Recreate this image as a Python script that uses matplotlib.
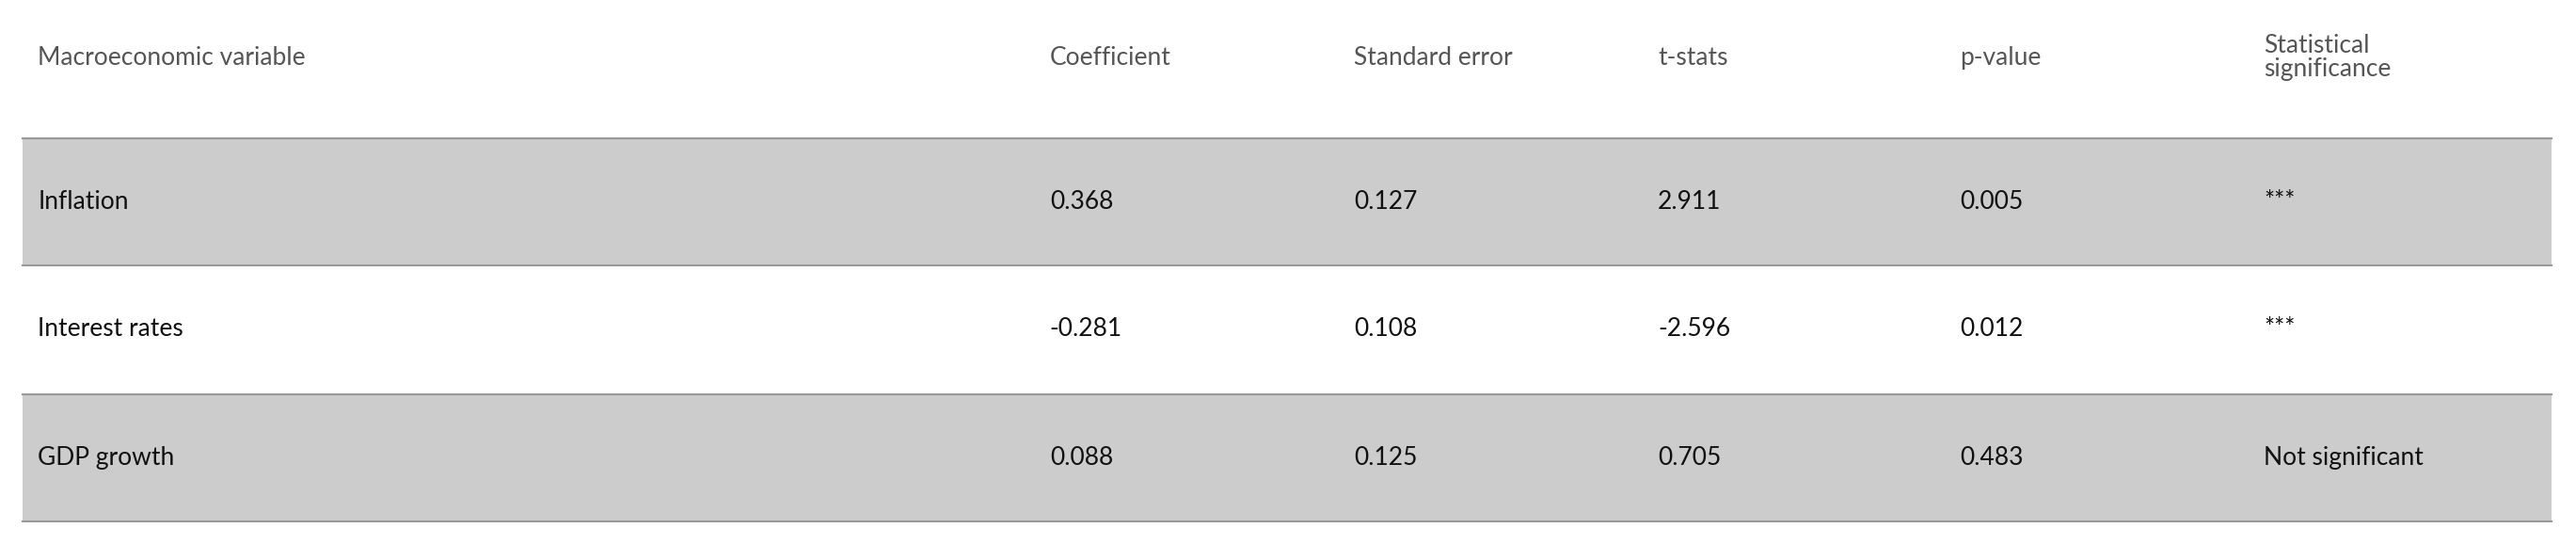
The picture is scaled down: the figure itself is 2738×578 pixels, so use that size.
import matplotlib
matplotlib.use("Agg")
import matplotlib.pyplot as plt
from matplotlib.patches import Rectangle

headers = ["Macroeconomic variable", "Coefficient", "Standard error", "t-stats", "p-value", "Statistical\nsignificance"]
variables = ["Inflation", "Interest rates", "GDP growth"]
coefficient = ["0.368", "-0.281", "0.088"]
std_error = ["0.127", "0.108", "0.125"]
t_stats = ["2.911", "-2.596", "0.705"]
p_value = ["0.005", "0.012", "0.483"]
significance = ["***", "***", "Not significant"]

W, H = 1568, 330
fig = plt.figure(figsize=(27.38, 5.78), dpi=100)
ax = fig.add_axes([0, 0, 1, 1])
ax.set_xlim(0, W); ax.set_ylim(H, 0); ax.axis("off")

colx = [23, 639, 824, 1009, 1193, 1378]
font = "Lato"
for x, h in zip(colx, headers):
    ax.text(x, 35, h, fontsize=19, color="#555555", va="center", ha="left", family=font, linespacing=1.0)

row_top = [84, 161, 239]
row_h = 77.5
cols = [variables, coefficient, std_error, t_stats, p_value, significance]
for i in range(3):
    y0 = row_top[i]
    if i % 2 == 0:
        ax.add_patch(Rectangle((14, y0), 1539, row_h, color="#cccccc", lw=0))
    for x, c in zip(colx, cols):
        ax.text(x, y0 + row_h / 2, c[i], fontsize=19, color="#111111", va="center", ha="left", family=font)
for y in [84, 161, 239, 316.5]:
    ax.plot([14, 1553], [y, y], color="#999999", lw=1.5)

fig.savefig("out.png", dpi=100)
